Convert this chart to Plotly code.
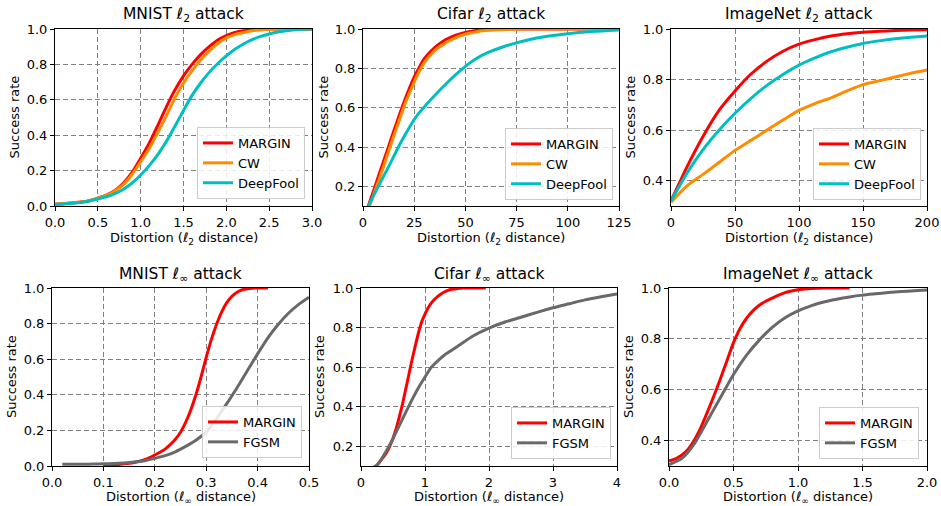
import plotly.graph_objects as go

# ---------------- data ----------------
# MNIST l2
mnist_l2_x = [0.0, 0.1, 0.2, 0.3, 0.4, 0.5, 0.6, 0.7, 0.8, 0.9, 1.0, 1.1, 1.2, 1.3, 1.4, 1.5,
              1.6, 1.7, 1.8, 1.9, 2.0, 2.1, 2.2, 2.3, 2.4, 2.5, 2.6, 2.7, 2.8, 2.9, 3.0]
mnist_l2_margin = [0.01, 0.013, 0.017, 0.022, 0.03, 0.045, 0.062, 0.088, 0.13, 0.19, 0.27, 0.355, 0.455, 0.56, 0.655, 0.735,
                   0.80, 0.855, 0.90, 0.938, 0.963, 0.98, 0.99, 0.995, 0.998, 1.0, 1.0, 1.0, 1.0, 1.0, 1.0]
mnist_l2_cw = [0.01, 0.013, 0.017, 0.022, 0.03, 0.045, 0.06, 0.085, 0.122, 0.178, 0.25, 0.325, 0.415, 0.51, 0.61, 0.695,
               0.765, 0.825, 0.875, 0.918, 0.95, 0.968, 0.98, 0.99, 0.995, 0.998, 1.0, 1.0, 1.0, 1.0, 1.0]
mnist_l2_deepfool = [0.01, 0.012, 0.015, 0.02, 0.028, 0.04, 0.052, 0.07, 0.095, 0.13, 0.175, 0.228, 0.29, 0.365, 0.45, 0.54,
                     0.625, 0.695, 0.755, 0.805, 0.848, 0.885, 0.915, 0.94, 0.958, 0.972, 0.983, 0.99, 0.995, 0.998, 1.0]

# Cifar l2
cifar_l2_x = [2.5, 5, 7.5, 10, 12.5, 15, 17.5, 20, 22.5, 25, 27.5, 30, 35, 40, 45, 50, 55, 60, 70, 80, 90, 100, 110, 125]
cifar_l2_margin = [0.098, 0.172, 0.25, 0.327, 0.403, 0.48, 0.555, 0.628, 0.695, 0.755, 0.805, 0.85, 0.905, 0.944, 0.968, 0.983,
                   0.992, 0.997, 1.0, 1.0, 1.0, 1.0, 1.0, 1.0]
cifar_l2_cw = [0.08, 0.152, 0.225, 0.30, 0.378, 0.455, 0.53, 0.605, 0.67, 0.73, 0.785, 0.83, 0.89, 0.927, 0.955, 0.973,
               0.985, 0.992, 0.998, 1.0, 1.0, 1.0, 1.0, 1.0]
cifar_l2_deepfool = [0.098, 0.15, 0.20, 0.25, 0.30, 0.352, 0.404, 0.452, 0.497, 0.54, 0.575, 0.605, 0.662, 0.715, 0.765, 0.81,
                     0.847, 0.876, 0.915, 0.943, 0.963, 0.976, 0.986, 0.995]

# ImageNet l2
imagenet_l2_x = [0, 12.5, 25, 37.5, 50, 62.5, 75, 87.5, 100, 112.5, 125, 137.5, 150, 162.5, 175, 187.5, 200]
imagenet_l2_margin = [0.32, 0.455, 0.575, 0.678, 0.755, 0.822, 0.873, 0.912, 0.94, 0.958, 0.972, 0.981, 0.987, 0.991, 0.994, 0.996, 0.997]
imagenet_l2_cw = [0.315, 0.38, 0.425, 0.472, 0.52, 0.56, 0.60, 0.64, 0.678, 0.705, 0.728, 0.755, 0.78, 0.795, 0.81, 0.825, 0.838]
imagenet_l2_deepfool = [0.32, 0.43, 0.523, 0.60, 0.667, 0.726, 0.777, 0.82, 0.857, 0.886, 0.91, 0.928, 0.943, 0.953, 0.961, 0.967, 0.972]

# MNIST linf
mnist_linf_margin_x = [0.10, 0.11, 0.12, 0.13, 0.14, 0.15, 0.16, 0.17, 0.18, 0.19, 0.20, 0.21, 0.22, 0.23, 0.24, 0.25, 0.26,
                       0.27, 0.28, 0.29, 0.30, 0.31, 0.32, 0.33, 0.34, 0.35, 0.36, 0.37, 0.38, 0.39, 0.40, 0.41, 0.42]
mnist_linf_margin = [0.003, 0.005, 0.007, 0.009, 0.012, 0.015, 0.02, 0.027, 0.035, 0.047, 0.062, 0.077, 0.095, 0.12, 0.15, 0.19, 0.245,
                     0.315, 0.40, 0.50, 0.61, 0.71, 0.795, 0.865, 0.918, 0.953, 0.976, 0.99, 0.996, 0.999, 1.0, 1.0, 1.0]
mnist_linf_fgsm_x = [0.02, 0.04, 0.06, 0.08, 0.10, 0.12, 0.14, 0.16, 0.18, 0.20, 0.22, 0.24, 0.26,
                     0.28, 0.30, 0.32, 0.34, 0.36, 0.38, 0.40, 0.42, 0.44, 0.46, 0.48, 0.50]
mnist_linf_fgsm = [0.01, 0.01, 0.01, 0.011, 0.012, 0.014, 0.017, 0.022, 0.03, 0.043, 0.058, 0.08, 0.11,
                   0.145, 0.19, 0.265, 0.35, 0.44, 0.535, 0.63, 0.72, 0.795, 0.858, 0.908, 0.948]

# Cifar linf
cifar_linf_margin_x = [0.2, 0.25, 0.3, 0.35, 0.4, 0.45, 0.5, 0.55, 0.6, 0.65, 0.7, 0.75, 0.8, 0.85, 0.9, 0.95, 1.0, 1.05, 1.1,
                       1.15, 1.2, 1.25, 1.3, 1.35, 1.4, 1.45, 1.5, 1.55, 1.6, 1.7, 1.8, 1.95]
cifar_linf_margin = [0.095, 0.105, 0.125, 0.145, 0.168, 0.2, 0.24, 0.29, 0.35, 0.415, 0.49, 0.565, 0.64, 0.71, 0.775, 0.83, 0.868, 0.90, 0.925,
                     0.943, 0.958, 0.97, 0.98, 0.987, 0.992, 0.995, 0.997, 0.999, 1.0, 1.0, 1.0, 1.0]
cifar_linf_fgsm_x = [0.2, 0.3, 0.4, 0.5, 0.6, 0.7, 0.8, 0.9, 1.0, 1.1, 1.2, 1.3, 1.4, 1.5, 1.75, 2.0, 2.25, 2.5, 2.75, 3.0, 3.25, 3.5, 3.75, 4.0]
cifar_linf_fgsm = [0.085, 0.125, 0.178, 0.238, 0.305, 0.372, 0.437, 0.497, 0.55, 0.60, 0.632, 0.66, 0.682, 0.703, 0.757, 0.797, 0.828, 0.852, 0.877, 0.90, 0.92, 0.94, 0.956, 0.97]

# ImageNet linf
imagenet_linf_margin_x = [0, 0.05, 0.1, 0.15, 0.2, 0.25, 0.3, 0.35, 0.4, 0.45, 0.5, 0.55, 0.6, 0.65, 0.7, 0.75, 0.8, 0.85, 0.9, 0.95,
                          1.0, 1.05, 1.1, 1.15, 1.2, 1.25, 1.3, 1.35, 1.4]
imagenet_linf_margin = [0.32, 0.328, 0.343, 0.367, 0.405, 0.455, 0.515, 0.578, 0.645, 0.715, 0.785, 0.84, 0.88, 0.91, 0.932, 0.948, 0.96, 0.972, 0.982, 0.988,
                        0.993, 0.996, 0.998, 0.999, 1.0, 1.0, 1.0, 1.0, 1.0]
imagenet_linf_fgsm_x = [0, 0.1, 0.2, 0.3, 0.4, 0.5, 0.6, 0.7, 0.8, 0.9, 1.0, 1.1, 1.2, 1.3, 1.4, 1.5, 1.6, 1.7, 1.8, 1.9, 2.0]
imagenet_linf_fgsm = [0.305, 0.33, 0.39, 0.48, 0.57, 0.66, 0.735, 0.795, 0.845, 0.883, 0.91, 0.93, 0.945, 0.956, 0.965, 0.972, 0.977, 0.982, 0.986, 0.989, 0.992]

# tick labels
xt_mnist_l2 = ["0.0", "0.5", "1.0", "1.5", "2.0", "2.5", "3.0"]
xt_cifar_l2 = ["0", "25", "50", "75", "100", "125"]
xt_imagenet_l2 = ["0", "50", "100", "150", "200"]
xt_mnist_linf = ["0.0", "0.1", "0.2", "0.3", "0.4", "0.5"]
xt_cifar_linf = ["0", "1", "2", "3", "4"]
xt_imagenet_linf = ["0.0", "0.5", "1.0", "1.5", "2.0"]
yt_full = ["0.0", "0.2", "0.4", "0.6", "0.8", "1.0"]
yt_cifar = ["0.2", "0.4", "0.6", "0.8", "1.0"]
yt_imagenet = ["0.4", "0.6", "0.8", "1.0"]

titles = ["MNIST <i>ℓ</i><sub>2</sub> attack", "Cifar <i>ℓ</i><sub>2</sub> attack", "ImageNet <i>ℓ</i><sub>2</sub> attack",
          "MNIST <i>ℓ</i><sub>∞</sub> attack", "Cifar <i>ℓ</i><sub>∞</sub> attack", "ImageNet <i>ℓ</i><sub>∞</sub> attack"]
xlabel_l2 = "Distortion (<i>ℓ</i><sub>2</sub> distance)"
xlabel_linf = "Distortion (<i>ℓ</i><sub>∞</sub> distance)"
ylabel = "Success rate"

# ---------------- styling / layout ----------------
W, H = 941, 506
RED, ORANGE, CYAN, GRAY = "#ff0000", "#ff8c00", "#00bfbf", "#696969"
FONT = "DejaVu Sans"

# pixel boxes (left, right, top, bottom)
boxes = [(55, 312, 29, 206), (363, 619, 29, 206), (671, 927, 29, 206),
         (52, 309, 288, 466), (361, 617, 288, 466), (669, 927, 288, 466)]
ylabel_x = [14, 323, 630, 11, 319, 628]
title_y = [15, 15, 15, 275, 275, 275]
xlabel_y = [239, 239, 239, 497, 497, 497]
legend_pos = [(305, 199), (613, 200), (921, 200), (302, 458), (611, 459), (919, 459)]

def tickvals(labels):
    return [float(t) for t in labels]

xticks = [xt_mnist_l2, xt_cifar_l2, xt_imagenet_l2, xt_mnist_linf, xt_cifar_linf, xt_imagenet_linf]
yticks = [yt_full, yt_cifar, yt_imagenet, yt_full, yt_cifar, yt_imagenet]
xranges = [[0, 3], [0, 125], [0, 200], [0, 0.5], [0, 4], [0, 2]]
yranges = [[0, 1], [0.1, 1], [0.3, 1], [0, 1], [0.1, 1], [0.3, 1]]

series = [
    [("MARGIN", mnist_l2_x, mnist_l2_margin, RED), ("CW", mnist_l2_x, mnist_l2_cw, ORANGE), ("DeepFool", mnist_l2_x, mnist_l2_deepfool, CYAN)],
    [("MARGIN", cifar_l2_x, cifar_l2_margin, RED), ("CW", cifar_l2_x, cifar_l2_cw, ORANGE), ("DeepFool", cifar_l2_x, cifar_l2_deepfool, CYAN)],
    [("MARGIN", imagenet_l2_x, imagenet_l2_margin, RED), ("CW", imagenet_l2_x, imagenet_l2_cw, ORANGE), ("DeepFool", imagenet_l2_x, imagenet_l2_deepfool, CYAN)],
    [("MARGIN", mnist_linf_margin_x, mnist_linf_margin, RED), ("FGSM", mnist_linf_fgsm_x, mnist_linf_fgsm, GRAY)],
    [("MARGIN", cifar_linf_margin_x, cifar_linf_margin, RED), ("FGSM", cifar_linf_fgsm_x, cifar_linf_fgsm, GRAY)],
    [("MARGIN", imagenet_linf_margin_x, imagenet_linf_margin, RED), ("FGSM", imagenet_linf_fgsm_x, imagenet_linf_fgsm, GRAY)],
]

fig = go.Figure()
layout = dict(width=W, height=H, margin=dict(l=0, r=0, t=0, b=0, autoexpand=False),
              paper_bgcolor="white", plot_bgcolor="white", template="none",
              font=dict(family=FONT, size=13, color="black"))
annotations = []

for i in range(6):
    n = "" if i == 0 else str(i + 1)
    l, r, t, b = boxes[i]
    xdom = [l / W, r / W]
    ydom = [1 - b / H, 1 - t / H]
    common = dict(showline=True, mirror=True, linecolor="black", linewidth=1, automargin=False,
                  ticks="outside", ticklen=4, tickwidth=1, tickcolor="black",
                  showgrid=True, gridcolor="#808080", gridwidth=1, griddash="5px,3px",
                  zeroline=False, tickfont=dict(family=FONT, size=13, color="black"))
    layout["xaxis" + n] = dict(domain=xdom, range=xranges[i], anchor="y" + n,
                               tickmode="array", tickvals=tickvals(xticks[i]), ticktext=xticks[i], **common)
    layout["yaxis" + n] = dict(domain=ydom, range=yranges[i], anchor="x" + n,
                               tickmode="array", tickvals=tickvals(yticks[i]), ticktext=yticks[i], **common)
    leg = "legend" + n
    lx, ly = legend_pos[i]
    layout[leg] = dict(x=lx / W, y=1 - ly / H, xanchor="right", yanchor="bottom",
                       xref="paper", yref="paper",
                       bgcolor="rgba(255,255,255,0.85)", bordercolor="#cccccc", borderwidth=1,
                       font=dict(family=FONT, size=13, color="black"), tracegroupgap=0)
    for name, xs, ys, col in series[i]:
        fig.add_trace(go.Scatter(x=xs, y=ys, mode="lines", name=name,
                                 line=dict(color=col, width=3, shape="spline", smoothing=0.6),
                                 xaxis="x" + n, yaxis="y" + n, legend=leg, showlegend=True))
    cx = (l + r) / 2 / W
    annotations.append(dict(text=titles[i], x=cx, y=1 - title_y[i] / H, xref="paper", yref="paper",
                            xanchor="center", yanchor="middle", showarrow=False,
                            font=dict(family=FONT, size=15.5, color="black")))
    annotations.append(dict(text=xlabel_l2 if i < 3 else xlabel_linf, x=cx, y=1 - xlabel_y[i] / H,
                            xref="paper", yref="paper", xanchor="center", yanchor="middle", showarrow=False,
                            font=dict(family=FONT, size=13, color="black")))
    annotations.append(dict(text=ylabel, x=ylabel_x[i] / W, y=1 - (t + b) / 2 / H,
                            xref="paper", yref="paper", xanchor="center", yanchor="middle", showarrow=False,
                            textangle=-90, font=dict(family=FONT, size=13, color="black")))

layout["annotations"] = annotations
fig.update_layout(**layout)
fig.write_html("out.html", config={"displayModeBar": False},
               post_script="document.body.style.margin='0';document.body.style.overflow='hidden';")
